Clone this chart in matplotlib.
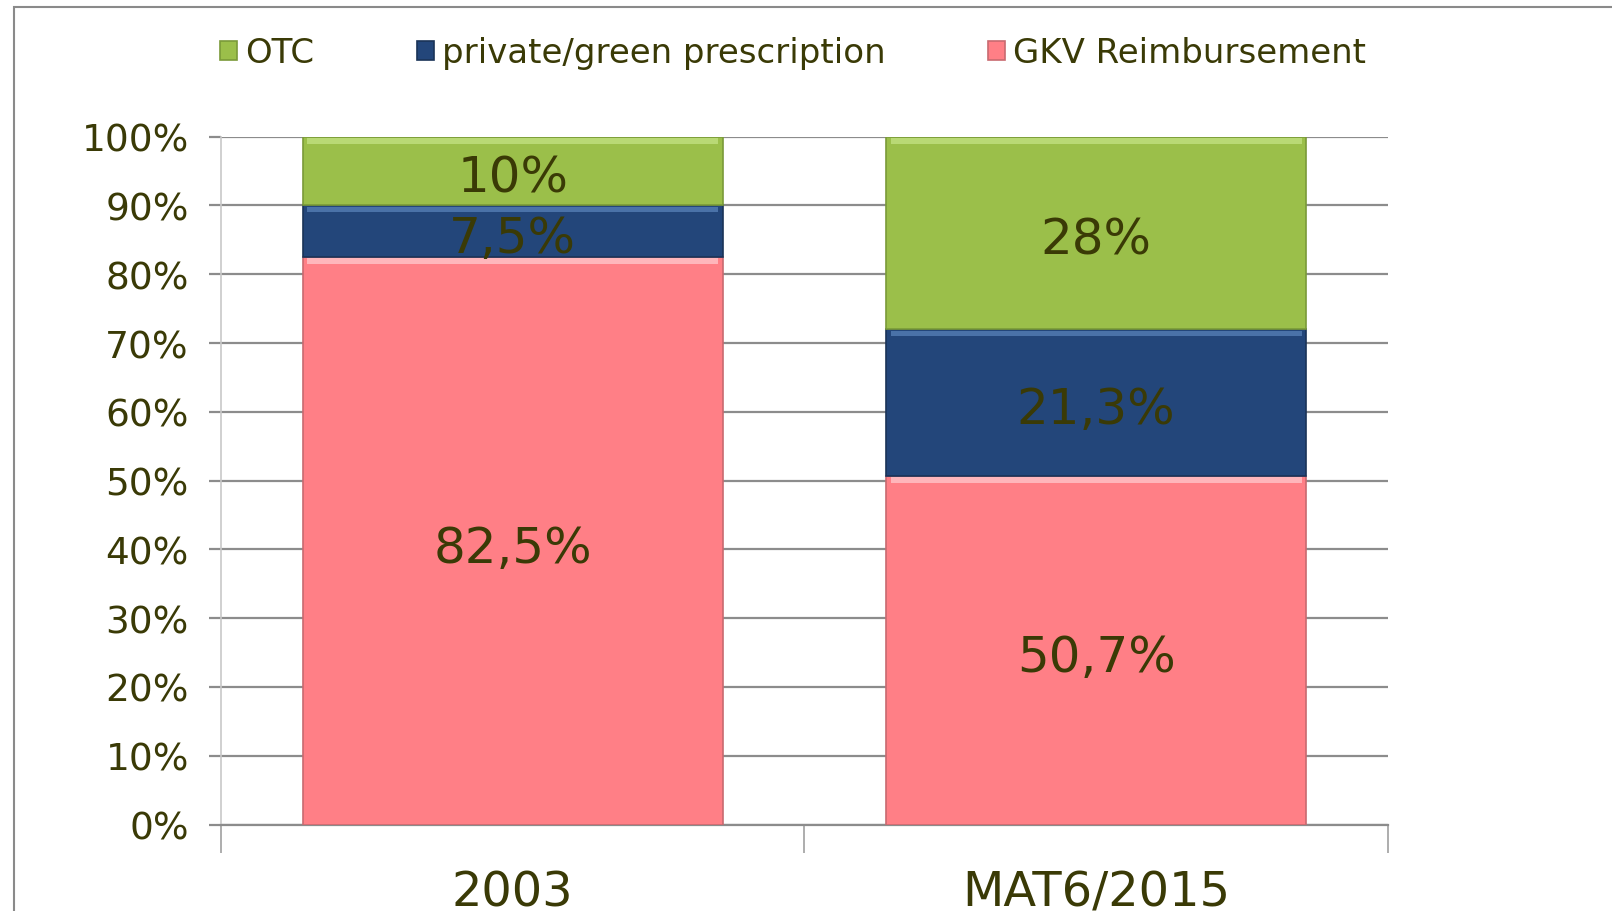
import numpy as np
import matplotlib.pyplot as plt
from matplotlib.patches import Rectangle

# data
categories = ['2003', 'MAT6/2015']
gkv = [82.5, 50.7]
private = [7.5, 21.3]
otc = [10.0, 28.0]
gkv_labels = ['82,5%', '50,7%']
private_labels = ['7,5%', '21,3%']
otc_labels = ['10%', '28%']
yticks = [0, 10, 20, 30, 40, 50, 60, 70, 80, 90, 100]

txt = '#3a3a06'
c_otc = '#9bbf4a'
c_priv = '#23467a'
c_gkv = '#ff7f86'

fig = plt.figure(figsize=(16.12, 9.12), dpi=100)
ax = fig.add_axes([0.137, 0.0948, 0.724, 0.7542])

x = np.arange(len(categories))
w = 0.72
b1 = ax.bar(x, gkv, w, color=c_gkv, edgecolor='#c86a70', lw=1.2, zorder=3, label='GKV Reimbursement')
b2 = ax.bar(x, private, w, bottom=gkv, color=c_priv, edgecolor='#1a3358', lw=1.2, zorder=3,
            label='private/green prescription')
bottom3 = np.array(gkv) + np.array(private)
b3 = ax.bar(x, otc, w, bottom=bottom3, color=c_otc, edgecolor='#7a9a38', lw=1.2, zorder=3, label='OTC')

# light bevel strip at the top of each segment
hl = {c_gkv: '#ffb6bb', c_priv: '#4a72a8', c_otc: '#b9d975'}
for bars, col in [(b1, c_gkv), (b2, c_priv), (b3, c_otc)]:
    for r in bars:
        ax.add_patch(Rectangle((r.get_x() + 0.008, r.get_y() + r.get_height() - 1.0),
                               r.get_width() - 0.016, 0.8, color=hl[col], zorder=4, lw=0))

# value labels (nudged down a little, like the original)
dy = -1.0
for i in range(len(categories)):
    ax.text(x[i], gkv[i] / 2 + dy, gkv_labels[i], ha='center', va='center', fontsize=36, color=txt, zorder=5)
    ax.text(x[i], gkv[i] + private[i] / 2 + dy, private_labels[i], ha='center', va='center', fontsize=36,
            color=txt, zorder=5)
    ax.text(x[i], bottom3[i] + otc[i] / 2 + dy, otc_labels[i], ha='center', va='center', fontsize=36,
            color=txt, zorder=5)

ax.set_xlim(-0.5, 1.5)
ax.set_ylim(0, 100)
ax.set_yticks(yticks)
ax.set_yticklabels([f'{v}%' for v in yticks])
ax.yaxis.grid(True, color='#8c8c8c', lw=1.6, zorder=0)
ax.set_axisbelow(True)
ax.tick_params(axis='y', length=9, width=1.6, color='#8c8c8c', labelsize=27, labelcolor=txt, pad=14)

ax.set_xticks(x)
ax.set_xticklabels(categories)
ax.set_xticks([-0.5, 0.5, 1.5], minor=True)
ax.tick_params(axis='x', which='major', length=0, labelsize=34.5, labelcolor=txt, pad=32)
ax.tick_params(axis='x', which='minor', length=20, width=1.2, color='#a0a0a0')

for s in ['top', 'right']:
    ax.spines[s].set_visible(False)
ax.spines['left'].set_color('#c8c8c8')
ax.spines['left'].set_linewidth(1.2)
ax.spines['bottom'].set_color('#8c8c8c')
ax.spines['bottom'].set_linewidth(1.6)

# legend
fig.legend(handles=[b3, b2, b1], loc='center', bbox_to_anchor=(0.492, 0.941), ncol=3, frameon=False,
           fontsize=24.5, labelcolor=txt, handlelength=0.5, handleheight=0.5, handletextpad=0.25,
           columnspacing=3.0)

# outer frame
fig.patches.append(Rectangle((14 / 1612, -0.1), 1.2, 1 - 8 / 912 + 0.1, transform=fig.transFigure,
                             fill=False, edgecolor='#8a8a8a', lw=1.5))

fig.savefig('out.png', dpi=100)
